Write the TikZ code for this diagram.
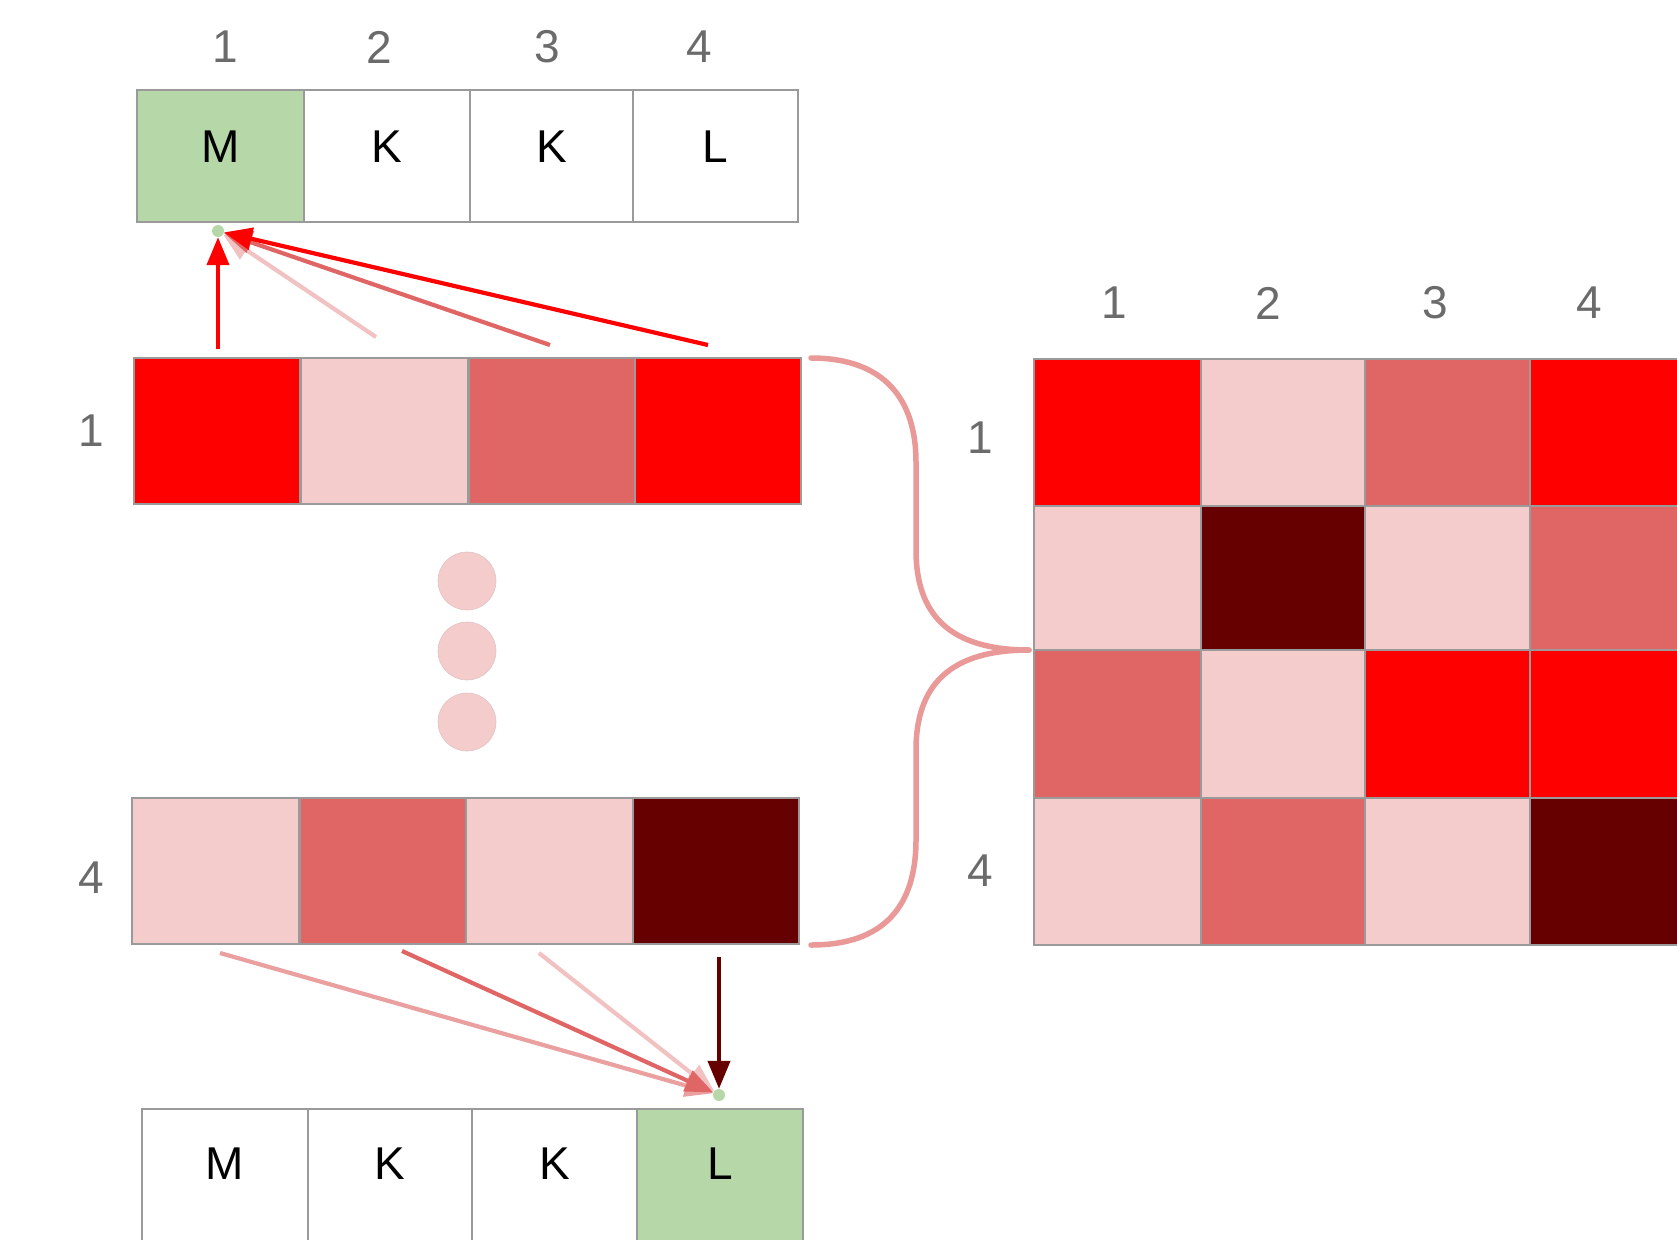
\documentclass[tikz,border=0pt]{standalone}
\usepackage{fontspec}
\setmainfont{Liberation Sans}
\usetikzlibrary{arrows.meta}
\definecolor{cRed}{HTML}{FF0000}
\definecolor{cMed}{HTML}{E06666}
\definecolor{cLight}{HTML}{F4CCCC}
\definecolor{cLightArr}{HTML}{F2C2C2}
\definecolor{cPinkArr}{HTML}{EBA0A0}
\definecolor{cDark}{HTML}{660000}
\definecolor{cGreen}{HTML}{B6D7A8}
\definecolor{cGrid}{HTML}{9A9A9A}
\definecolor{cLab}{HTML}{6B6B6B}
\definecolor{cBrace}{HTML}{EA9999}
\begin{document}
\begin{tikzpicture}[x=1pt,y=-1pt,
  cell/.style={draw=cGrid,line width=2.8pt,inner sep=0pt,outer sep=0pt,anchor=north west},
  letr/.style={font=\fontsize{46}{50}\selectfont,text=black},
  lab/.style={font=\fontsize{46}{50}\selectfont,text=cLab,inner sep=0pt},
  dotc/.style={circle,fill=cGreen,inner sep=0pt,minimum size=12pt},
  ell/.style={circle,fill=cLight,draw=cLight!85!gray,line width=0.6pt,inner sep=0pt,minimum size=58pt},
  arr/.style={line width=4.2pt,-{Triangle[length=28pt,width=22pt]}},
  brace/.style={draw=cBrace,line width=5.5pt,line cap=round}]
\useasboundingbox (0,0) rectangle (1677,1239);
\clip (0,0) rectangle (1677,1239);
\fill[white] (0,0) rectangle (1677,1239);

% ---------- top sequence ----------
\node[cell,fill=cGreen,minimum width=167pt,minimum height=132pt,label={[letr,yshift=9pt]center:M}] (t1) at (137,90) {};
\node[cell,fill=white,minimum width=166pt,minimum height=132pt,label={[letr,yshift=9pt]center:K}] (t2) at (304,90) {};
\node[cell,fill=white,minimum width=163pt,minimum height=132pt,label={[letr,yshift=9pt]center:K}] (t3) at (470,90) {};
\node[cell,fill=white,minimum width=165pt,minimum height=132pt,label={[letr,yshift=9pt]center:L}] (t4) at (633,90) {};
\node[lab] (tl1) at (225,47) {1};
\node[lab] (tl2) at (379,47) {2};
\node[lab] (tl3) at (547,47) {3};
\node[lab] (tl4) at (699,47) {4};

% ---------- row 1 ----------
\node[cell,fill=cRed,minimum width=166.5pt,minimum height=146pt] (r1c1) at (134,358) {};
\node[cell,fill=cLight,minimum width=168pt,minimum height=146pt] (r1c2) at (300.5,358) {};
\node[cell,fill=cMed,minimum width=166.5pt,minimum height=146pt] (r1c3) at (468.5,358) {};
\node[cell,fill=cRed,minimum width=166pt,minimum height=146pt] (r1c4) at (635,358) {};
\node[lab] (rl1) at (91,431) {1};

% ---------- ellipsis dots ----------
\node[ell] (e1) at (467,581) {};
\node[ell] (e2) at (467,651) {};
\node[ell] (e3) at (467,722) {};

% ---------- row 4 ----------
\node[cell,fill=cLight,minimum width=167.5pt,minimum height=146pt] (r4c1) at (132,798) {};
\node[cell,fill=cMed,minimum width=166.5pt,minimum height=146pt] (r4c2) at (299.5,798) {};
\node[cell,fill=cLight,minimum width=167pt,minimum height=146pt] (r4c3) at (466,798) {};
\node[cell,fill=cDark,minimum width=166pt,minimum height=146pt] (r4c4) at (633,798) {};
\node[lab] (rl4) at (91,878) {4};

% ---------- bottom sequence ----------
\node[cell,fill=white,minimum width=166pt,minimum height=140pt,label={[letr,yshift=15pt]center:M}] (b1) at (142,1109) {};
\node[cell,fill=white,minimum width=164pt,minimum height=140pt,label={[letr,yshift=15pt]center:K}] (b2) at (308,1109) {};
\node[cell,fill=white,minimum width=165pt,minimum height=140pt,label={[letr,yshift=15pt]center:K}] (b3) at (472,1109) {};
\node[cell,fill=cGreen,minimum width=166pt,minimum height=140pt,label={[letr,yshift=15pt]center:L}] (b4) at (637,1109) {};

% ---------- attention matrix ----------
\foreach \r/\y/\h in {1/359/147,2/506/144,3/650/148,4/798/147}{
  \foreach \c/\x/\w in {1/1034/167,2/1201/164,3/1365/165,4/1530/166}{
    \node[cell,minimum width=\w pt,minimum height=\h pt] (m\r\c) at (\x,\y) {};
  }
}
\fill[cRed]   (m11.north west) rectangle (m11.south east);
\fill[cLight] (m12.north west) rectangle (m12.south east);
\fill[cMed]   (m13.north west) rectangle (m13.south east);
\fill[cRed]   (m14.north west) rectangle (m14.south east);
\fill[cLight] (m21.north west) rectangle (m21.south east);
\fill[cDark]  (m22.north west) rectangle (m22.south east);
\fill[cLight] (m23.north west) rectangle (m23.south east);
\fill[cMed]   (m24.north west) rectangle (m24.south east);
\fill[cMed]   (m31.north west) rectangle (m31.south east);
\fill[cLight] (m32.north west) rectangle (m32.south east);
\fill[cRed]   (m33.north west) rectangle (m33.south east);
\fill[cRed]   (m34.north west) rectangle (m34.south east);
\fill[cLight] (m41.north west) rectangle (m41.south east);
\fill[cMed]   (m42.north west) rectangle (m42.south east);
\fill[cLight] (m43.north west) rectangle (m43.south east);
\fill[cDark]  (m44.north west) rectangle (m44.south east);
\foreach \r in {1,2,3,4}{\foreach \c in {1,2,3,4}{
  \draw[cGrid,line width=2.8pt] (m\r\c.north west) rectangle (m\r\c.south east);}}
\node[lab] (ml1) at (1114,303) {1};
\node[lab] (ml2) at (1268,303) {2};
\node[lab] (ml3) at (1435,303) {3};
\node[lab] (ml4) at (1589,303) {4};
\node[lab] (mr1) at (980,438) {1};
\node[lab] (mr4) at (980,871) {4};

% ---------- brace ----------
\coordinate (bt) at (811,358);
\coordinate (bb) at (811,945);
\coordinate (btip) at (1029,650);
\draw[brace] (bt) .. controls (885,358) and (916,400) .. (916,462) -- (916,550)
  .. controls (916,615) and (950,650) .. (btip);
\draw[brace] (btip) .. controls (950,650) and (916,685) .. (916,750) -- (916,840)
  .. controls (916,905) and (885,945) .. (bb);

% ---------- dots and arrows ----------
\node[dotc] (dT) at (218,231) {};
\node[dotc] (dB) at (719,1095) {};
\coordinate (s1) at (218,349);
\coordinate (s2) at (376,337);
\coordinate (s3) at (550,345);
\coordinate (s4) at (708,345);
\draw[arr,cLightArr] (s2) -- (dT);
\draw[arr,cMed] (s3) -- (dT);
\draw[arr,cRed] (s4) -- (dT);
\draw[arr,cRed] (s1) -- (dT);

\coordinate (u1) at (220,953);
\coordinate (u2) at (402,951);
\coordinate (u3) at (539,953);
\coordinate (u4) at (719,957);
\draw[arr,cLightArr] (u3) -- (dB);
\draw[arr,cPinkArr] (u1) -- (dB);
\draw[arr,cMed] (u2) -- (dB);
\draw[arr,cDark] (u4) -- (dB);
\end{tikzpicture}
\end{document}
